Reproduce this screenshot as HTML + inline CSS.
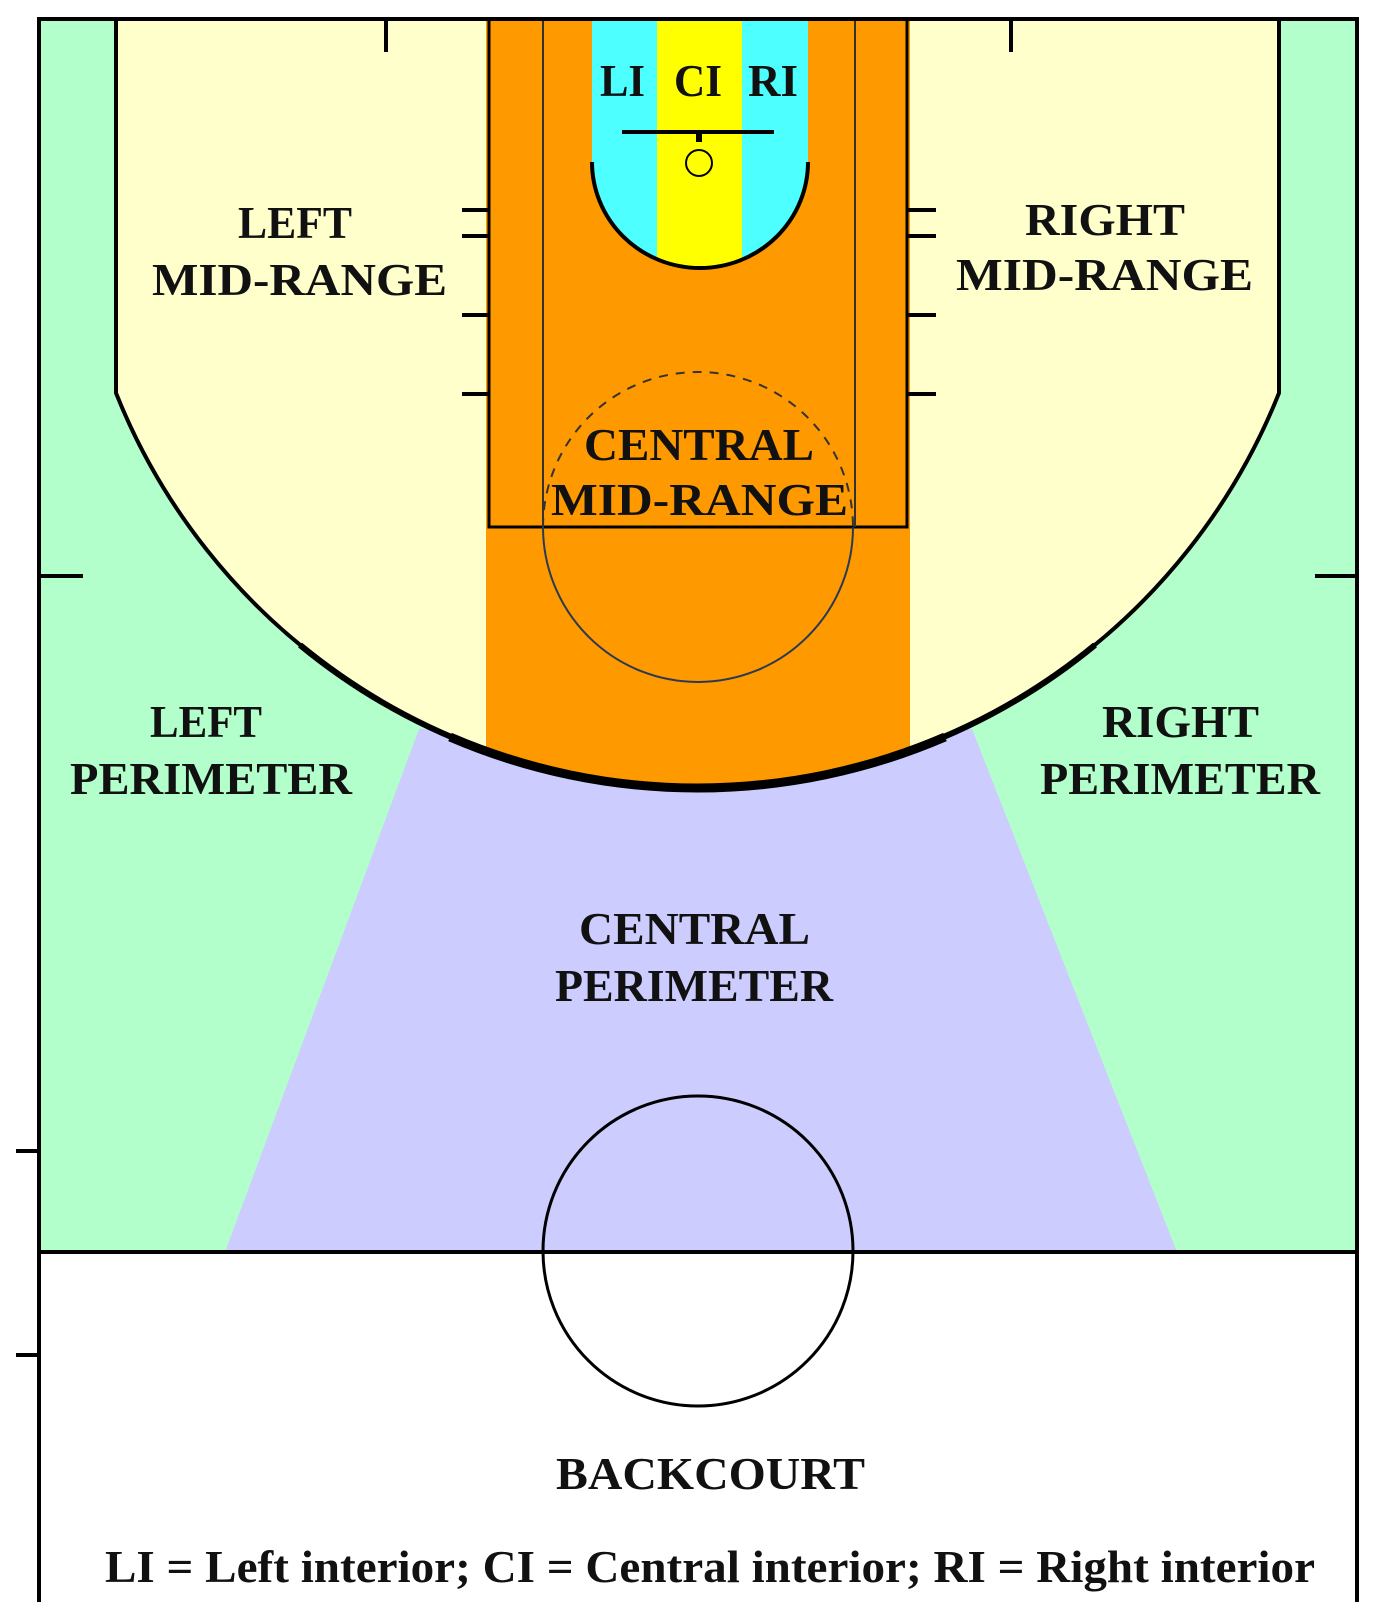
<!DOCTYPE html>
<html><head><meta charset="utf-8"><style>html,body{margin:0;padding:0;background:#fff}svg{display:block}</style></head>
<body>
<svg width="1375" height="1623" viewBox="0 0 1375 1623" xmlns="http://www.w3.org/2000/svg" font-family="'Liberation Serif', serif" font-weight="bold">
<defs>
<clipPath id="court"><rect x="39" y="19" width="1318" height="1233"/></clipPath>
</defs>
<rect x="39" y="19" width="1318" height="1233" fill="#b3ffcc"/>
<g clip-path="url(#court)">
<polygon points="419,729 972,729 1177,1252 225,1252" fill="#ccccff"/>
<path d="M116,19 L1279,19 L1279,393 A626,626 0 0 1 116,393 Z" fill="#ffffcc"/>
<clipPath id="arc"><path d="M116,19 L1279,19 L1279,393 A626,626 0 0 1 116,393 Z"/></clipPath>
<rect x="486" y="19" width="424" height="800" fill="#ff9900" clip-path="url(#arc)"/>
</g>
<path d="M592,19 L592,162 A108,106 0 0 0 808,162 L808,19 Z" fill="#4dffff"/>
<clipPath id="ri"><path d="M592,19 L592,162 A108,106 0 0 0 808,162 L808,19 Z"/></clipPath>
<rect x="657" y="19" width="85" height="260" fill="#ffff00" clip-path="url(#ri)"/>
<path d="M592,162 A108,106 0 0 0 808,162" fill="none" stroke="#000" stroke-width="4"/>
<line x1="622" y1="132" x2="774" y2="132" stroke="#000" stroke-width="4"/>
<rect x="696" y="132" width="6" height="10" fill="#000"/>
<circle cx="699" cy="163" r="13" fill="none" stroke="#000" stroke-width="2"/>
<path d="M489,19 L489,527 L907,527 L907,19" fill="none" stroke="#000" stroke-width="3"/>
<line x1="543" y1="19" x2="543" y2="527" stroke="#333" stroke-width="2"/>
<line x1="855" y1="19" x2="855" y2="527" stroke="#333" stroke-width="2"/>
<path d="M543,527 A155,155 0 0 1 853,527" fill="none" stroke="#333" stroke-width="2" stroke-dasharray="9,8"/>
<path d="M543,527 A155,155 0 0 0 853,527" fill="none" stroke="#2a3a55" stroke-width="2"/>
<g stroke="#000" stroke-width="4">
<line x1="462" y1="210" x2="489" y2="210"/><line x1="462" y1="236" x2="489" y2="236"/>
<line x1="462" y1="315" x2="489" y2="315"/><line x1="462" y1="394" x2="489" y2="394"/>
<line x1="907" y1="210" x2="936" y2="210"/><line x1="907" y1="236" x2="936" y2="236"/>
<line x1="907" y1="315" x2="936" y2="315"/><line x1="907" y1="394" x2="936" y2="394"/>
<line x1="386" y1="19" x2="386" y2="52"/><line x1="1011" y1="19" x2="1011" y2="52"/>
<line x1="39" y1="576" x2="83" y2="576"/><line x1="1315" y1="576" x2="1357" y2="576"/>
<line x1="16" y1="1151" x2="39" y2="1151"/><line x1="16" y1="1355" x2="39" y2="1355"/>
</g>
<path d="M116,19 L116,393 A626,626 0 0 0 1279,393 L1279,19" fill="none" stroke="#000" stroke-width="4"/>
<path d="M300,645 A626,626 0 0 0 1095,645" fill="none" stroke="#000" stroke-width="6"/>
<path d="M450,737 A626,626 0 0 0 945,737" fill="none" stroke="#000" stroke-width="9"/>
<path d="M39,1602 L39,19 L1357,19 L1357,1602" fill="none" stroke="#000" stroke-width="4"/>
<line x1="39" y1="1252" x2="1357" y2="1252" stroke="#000" stroke-width="4"/>
<circle cx="698" cy="1251" r="155" fill="none" stroke="#000" stroke-width="3"/>
<g fill="#111" font-size="46">
<text x="600" y="96" textLength="45" lengthAdjust="spacingAndGlyphs">LI</text>
<text x="674" y="96" textLength="48" lengthAdjust="spacingAndGlyphs">CI</text>
<text x="748" y="96" textLength="50" lengthAdjust="spacingAndGlyphs">RI</text>
<text x="238" y="238" textLength="114" lengthAdjust="spacingAndGlyphs">LEFT</text>
<text x="152" y="295" textLength="295" lengthAdjust="spacingAndGlyphs">MID-RANGE</text>
<text x="1025" y="235" textLength="160" lengthAdjust="spacingAndGlyphs">RIGHT</text>
<text x="956" y="290" textLength="297" lengthAdjust="spacingAndGlyphs">MID-RANGE</text>
<text x="584" y="460" textLength="230" lengthAdjust="spacingAndGlyphs">CENTRAL</text>
<text x="551" y="515" textLength="297" lengthAdjust="spacingAndGlyphs">MID-RANGE</text>
<text x="150" y="737" textLength="112" lengthAdjust="spacingAndGlyphs">LEFT</text>
<text x="70" y="794" textLength="282" lengthAdjust="spacingAndGlyphs">PERIMETER</text>
<text x="1102" y="737" textLength="157" lengthAdjust="spacingAndGlyphs">RIGHT</text>
<text x="1040" y="794" textLength="280" lengthAdjust="spacingAndGlyphs">PERIMETER</text>
<text x="579" y="944" textLength="231" lengthAdjust="spacingAndGlyphs">CENTRAL</text>
<text x="555" y="1001" textLength="278" lengthAdjust="spacingAndGlyphs">PERIMETER</text>
<text x="556" y="1489" textLength="309" lengthAdjust="spacingAndGlyphs">BACKCOURT</text>
<text x="105" y="1582" textLength="1210" lengthAdjust="spacingAndGlyphs">LI = Left interior; CI = Central interior; RI = Right interior</text>
</g>
</svg>
</body></html>
